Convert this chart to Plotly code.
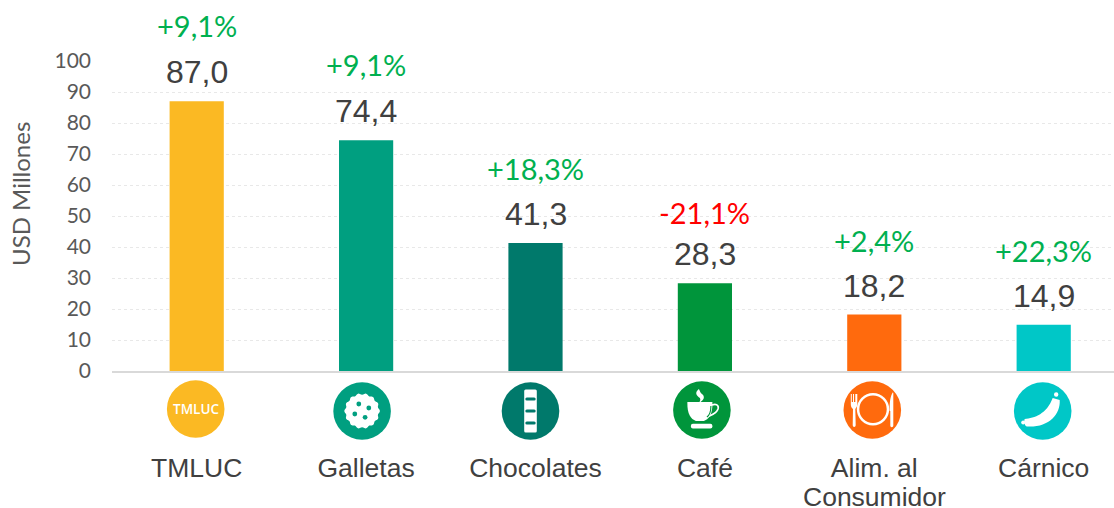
import numpy as np
import plotly.graph_objects as go

categories = ["TMLUC", "Galletas", "Chocolates", "Café", "Alim. al", "Cárnico"]
category_second_lines = ["", "", "", "", "Consumidor", ""]
values = [87.0, 74.4, 41.3, 28.3, 18.2, 14.9]
value_labels = ["87,0", "74,4", "41,3", "28,3", "18,2", "14,9"]
growth_labels = ["+9,1%", "+9,1%", "+18,3%", "-21,1%", "+2,4%", "+22,3%"]
growth_colors = ["#00B050", "#00B050", "#00B050", "#FF0000", "#00B050", "#00B050"]
bar_colors = ["#FBB923", "#009F80", "#00796B", "#00953B", "#FF6A0D", "#00C7C7"]
y_ticks = list(range(0, 101, 10))

W, H = 1114, 508
ML, MT, MB = 112, 61, 137
X0, X1 = -0.5, 5.415
SANS = "Liberation Sans, Arial, sans-serif"
CAL = "Lato, Carlito, Calibri, sans-serif"
growth_shift = [76, 76, 74, 71, 74, 74]

x_idx = list(range(len(categories)))

fig = go.Figure(go.Bar(x=x_idx, y=values, marker=dict(color=bar_colors, line_width=0),
                       width=0.32, showlegend=False, hoverinfo="x+y"))

annotations = []
for i, v in enumerate(values):
    annotations.append(dict(x=i, y=v, xref="x", yref="y", text=value_labels[i], showarrow=False,
                            yshift=29, font=dict(family=SANS, size=32, color="#404040")))
    annotations.append(dict(x=i, y=v, xref="x", yref="y", text=growth_labels[i], showarrow=False,
                            yshift=growth_shift[i], font=dict(family=CAL, size=29, color=growth_colors[i])))
    if category_second_lines[i]:
        annotations.append(dict(x=i, y=0, xref="x", yref="y", text=category_second_lines[i], showarrow=False,
                                yshift=-126, font=dict(family=SANS, size=26.5, color="#404040")))

annotations.append(dict(x=(20 - ML) / (W - ML), y=(371 - 194) / (H - MT - MB), xref="paper", yref="paper",
                        text="USD Millones", textangle=-90, showarrow=False, xanchor="center", yanchor="middle",
                        font=dict(family=CAL, size=24, color="#595959")))

# icons, in pixels about a centre below each bar
pw = W - ML
ph = H - MT - MB
icon_dx = [-1, -4, -5, -3, -2, -1]
icon_cy = [38, 40, 40, 39, 39, 40]
shapes = []


def cx_paper(i):
    return (i - X0) / (X1 - X0) + icon_dx[i] / pw


def cy_paper(i):
    return -icon_cy[i] / ph


def circ(i, ox, oy, r, color):
    shapes.append(dict(type="circle", xref="paper", yref="paper", xsizemode="pixel", ysizemode="pixel",
                       xanchor=cx_paper(i), yanchor=cy_paper(i), x0=ox - r, x1=ox + r, y0=oy - r, y1=oy + r,
                       fillcolor=color, line_width=0, layer="above"))


def path(i, d, color, line=0, fill=True):
    shapes.append(dict(type="path", xref="paper", yref="paper", xsizemode="pixel", ysizemode="pixel",
                       xanchor=cx_paper(i), yanchor=cy_paper(i), path=d,
                       fillcolor=color if fill else "rgba(0,0,0,0)",
                       line=dict(width=line, color=color), layer="above"))


def rect(i, x0, y0, x1, y1, color, rad=1.0):
    d = (f"M{x0+rad},{y0} L{x1-rad},{y0} Q{x1},{y0} {x1},{y0+rad} L{x1},{y1-rad} Q{x1},{y1} {x1-rad},{y1} "
         f"L{x0+rad},{y1} Q{x0},{y1} {x0},{y1-rad} L{x0},{y0+rad} Q{x0},{y0} {x0+rad},{y0} Z")
    path(i, d, color)


for i in x_idx:
    circ(i, 0, 0, 28.8, bar_colors[i])

WHITE = "#FFFFFF"
annotations.append(dict(x=cx_paper(0), y=cy_paper(0), xref="paper", yref="paper", text="TMLUC", showarrow=False,
                        xanchor="center", yanchor="middle",
                        font=dict(family="Open Sans, sans-serif", size=13.5, color=WHITE, weight=600)))

# cookie
th = np.linspace(0, 2 * np.pi, 96, endpoint=False)
rr = 17 + 0.8 * np.cos(14 * th)
pts = [f"{x:.2f},{y:.2f}" for x, y in zip(rr * np.cos(th), rr * np.sin(th))]
path(1, "M" + " L".join(pts) + " Z", WHITE)
for ox, oy in [(-3.3, 7), (6.7, 3), (-7.3, -3), (3, -6.3)]:
    circ(1, ox, oy, 2.4, bar_colors[1])

# chocolate bar
rect(2, -6.3, -21.5, 6.3, 21.5, WHITE, 1.5)
for oy in (12, 0, -12):
    rect(2, -5.2, oy - 1.6, 5.2, oy + 1.6, bar_colors[2], 1.5)

# coffee cup
path(3, "M-14.5,8 L10.5,8 C11,-4 7,-9 2,-11 L-6,-11 C-11,-9 -15,-4 -14.5,8 Z", WHITE)
path(3, "M10,5 C16,7 18,3 15,-1 C13,-4 8,-6 3,-8", WHITE, line=1.6, fill=False)
path(3, "M5,-7 C8,-5 9,0 9,4", bar_colors[3], line=1.1, fill=False)
rect(3, -11, -18.5, 10.5, -13.7, WHITE, 2)
path(3, "M-3,21 C-8,17 -5,14 -2,12 C-1,10 -2,9 -3,7 C3,10 3,14 0,16 C-2,18 -2,19 -3,21 Z", WHITE)

# plate, fork and knife
circ(4, 0.7, 0.7, 16.2, WHITE)
circ(4, 0.7, 0.7, 13.7, bar_colors[4])
path(4, "M-21.5,16 L-20.5,16 L-20.5,8 L-19.3,8 L-19.3,16 L-18.3,16 L-18.3,8 L-17,8 L-17,16 L-16,16 L-15,16 "
        "L-15,6 C-15,3 -16.5,2 -17,1 L-16.6,-15 C-16.6,-17.5 -19.6,-17.5 -19.6,-15 L-19.3,1 "
        "C-20.5,2 -21.5,3 -21.5,6 Z", WHITE)
path(4, "M20.6,17.7 C18,14 17.3,8 17.3,-1 L18,-1 L18,-15.5 C18,-17.8 21,-17.8 21,-15.5 L21,17 Z", WHITE)

# sausage
path(5, "M-18,-8 C-8,-7 4,-3 10,13 L17,11 C18,-4 5,-17 -16,-15.5 C-18,-15 -19,-10 -18,-8 Z", WHITE)
circ(5, -19.5, -11.5, 2, WHITE)
circ(5, 13.5, 16.5, 2.2, WHITE)

fig.update_layout(
    width=W, height=H, autosize=False,
    margin=dict(l=ML, r=0, t=MT, b=MB, pad=0),
    paper_bgcolor="white", plot_bgcolor="white",
    shapes=shapes, annotations=annotations,
    xaxis=dict(range=[X0, X1], tickmode="array", tickvals=x_idx, ticktext=categories, ticks="",
               showgrid=False, zeroline=False, showline=True, linecolor="#D9D9D9", linewidth=2,
               automargin=False,
               ticklabelstandoff=72, tickfont=dict(family=SANS, size=26.5, color="#404040"), tickangle=0),
    yaxis=dict(range=[0, 100], tickmode="array", tickvals=y_ticks, ticks="", showline=False, zeroline=False,
               automargin=False,
               gridcolor="#E8E8E8", gridwidth=1, griddash="dot", ticklabelstandoff=20,
               tickfont=dict(family=CAL, size=21, color="#595959")),
)

fig.write_html("out.html", config=dict(displayModeBar=False),
               post_script="document.body.style.margin='0';document.documentElement.style.overflow='hidden';")
